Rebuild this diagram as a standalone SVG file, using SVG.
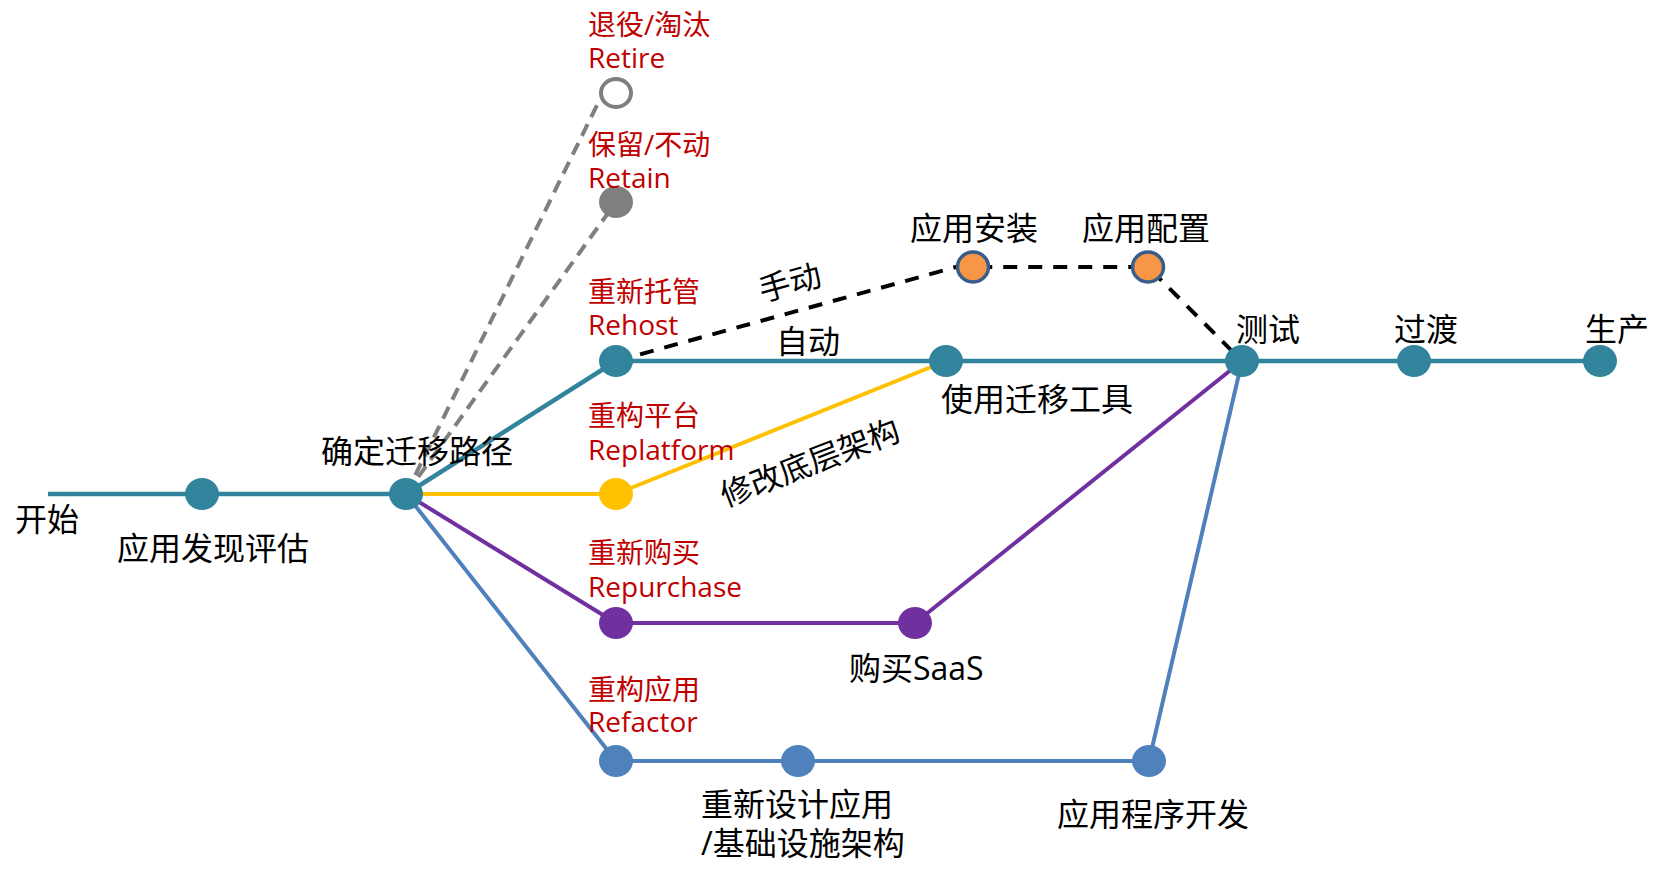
<svg xmlns="http://www.w3.org/2000/svg" width="1666" height="869" viewBox="0 0 1666 869">
<style>
text{font-family:"Open Sans","Noto Sans CJK SC",sans-serif;}
.blk{font-size:32px;fill:#000;}
.red{font-size:28px;fill:#c00000;}
.rot{font-size:31.5px;fill:#000;}
.ln{fill:none;stroke-linejoin:round;}
.teal{stroke:#31849b;stroke-width:4.5;}
.yel{stroke:#ffc000;stroke-width:4;}
.pur{stroke:#7030a0;stroke-width:4;}
.blu{stroke:#4f81bd;stroke-width:4;}
.gdash{stroke:#7f7f7f;stroke-width:4;stroke-dasharray:13 8;}
.kdash{stroke:#000;stroke-width:4;stroke-dasharray:14 11;}
.nt{fill:#31849b;}
.ny{fill:#ffc000;}
.np{fill:#7030a0;}
.nb{fill:#4f81bd;}
.ng{fill:#7f7f7f;}
.nr{fill:#fff;stroke:#7f7f7f;stroke-width:4;}
.no{fill:#f79646;stroke:#385d8a;stroke-width:3.5;}
</style>
<g id="connectors">
<path class="ln gdash" d="M406,494 L600,99"/>
<path class="ln gdash" d="M406,494 L616,202"/>
<path class="ln kdash" d="M616,361 L956,267 L1148,267 L1242,361"/>
<path class="ln teal" d="M48,494 L406,494 L616,361 L1600,361"/>
<path class="ln yel" d="M406,494 L616,494 L946,361"/>
<path class="ln pur" d="M406,494 L616,623 L915,623 L1242,361"/>
<path class="ln blu" d="M406,494 L616,761 L1149,761 L1242,361"/>
</g>
<g id="n-start"><text class="blk" x="15" y="531">开始</text></g>
<g id="n-discover"><ellipse class="nt" cx="202" cy="494" rx="17" ry="16"/><text class="blk" x="117" y="560">应用发现评估</text></g>
<g id="n-decide"><ellipse class="nt" cx="406" cy="494" rx="17" ry="16"/><text class="blk" x="321" y="463">确定迁移路径</text></g>
<g id="n-retire"><ellipse class="nr" cx="616" cy="93" rx="15" ry="14"/><text class="red"><tspan x="588" y="35">退役/淘汰</tspan><tspan x="588" y="68">Retire</tspan></text></g>
<g id="n-retain"><ellipse class="ng" cx="616" cy="202" rx="17" ry="16"/><text class="red"><tspan x="588" y="155">保留/不动</tspan><tspan x="588" y="188">Retain</tspan></text></g>
<g id="n-rehost"><ellipse class="nt" cx="616" cy="361" rx="17" ry="16"/><text class="red"><tspan x="588" y="302">重新托管</tspan><tspan x="588" y="335">Rehost</tspan></text></g>
<g id="n-replatform"><ellipse class="ny" cx="616" cy="494" rx="17" ry="16"/><text class="red"><tspan x="588" y="426">重构平台</tspan><tspan x="588" y="460">Replatform</tspan></text></g>
<g id="n-repurchase"><ellipse class="np" cx="616" cy="623" rx="17" ry="16"/><text class="red"><tspan x="588" y="563">重新购买</tspan><tspan x="588" y="597">Repurchase</tspan></text></g>
<g id="n-refactor"><ellipse class="nb" cx="616" cy="761" rx="17" ry="16"/><text class="red"><tspan x="588" y="700">重构应用</tspan><tspan x="588" y="732">Refactor</tspan></text></g>
<g id="n-redesign"><ellipse class="nb" cx="798" cy="761" rx="17" ry="16"/><text class="blk"><tspan x="701" y="816">重新设计应用</tspan><tspan x="701" y="855">/基础设施架构</tspan></text></g>
<g id="n-appdev"><ellipse class="nb" cx="1149" cy="761" rx="17" ry="16"/><text class="blk" x="1057" y="826">应用程序开发</text></g>
<g id="n-saas"><ellipse class="np" cx="915" cy="623" rx="17" ry="16"/><text class="blk" x="849" y="680">购买SaaS</text></g>
<g id="n-tool"><ellipse class="nt" cx="946" cy="361" rx="17" ry="16"/><text class="blk" x="941" y="411">使用迁移工具</text></g>
<g id="n-install"><ellipse class="no" cx="973" cy="267" rx="15.5" ry="15"/><text class="blk" x="910" y="240">应用安装</text></g>
<g id="n-config"><ellipse class="no" cx="1148" cy="267" rx="15.5" ry="15"/><text class="blk" x="1082" y="240">应用配置</text></g>
<g id="n-test"><ellipse class="nt" cx="1242" cy="361" rx="17" ry="16"/><text class="blk" x="1236" y="341">测试</text></g>
<g id="n-transition"><ellipse class="nt" cx="1414" cy="361" rx="17" ry="16"/><text class="blk" x="1394" y="341">过渡</text></g>
<g id="n-prod"><ellipse class="nt" cx="1600" cy="361" rx="17" ry="16"/><text class="blk" x="1585" y="341">生产</text></g>
<g id="labels">
<text class="blk" x="776" y="353">自动</text>
<text class="rot" text-anchor="middle" x="0" y="11" transform="translate(790,283) rotate(-15.5)">手动</text>
<text class="rot" text-anchor="middle" x="0" y="11" transform="translate(810,463) rotate(-21)">修改底层架构</text>
</g>
</svg>
